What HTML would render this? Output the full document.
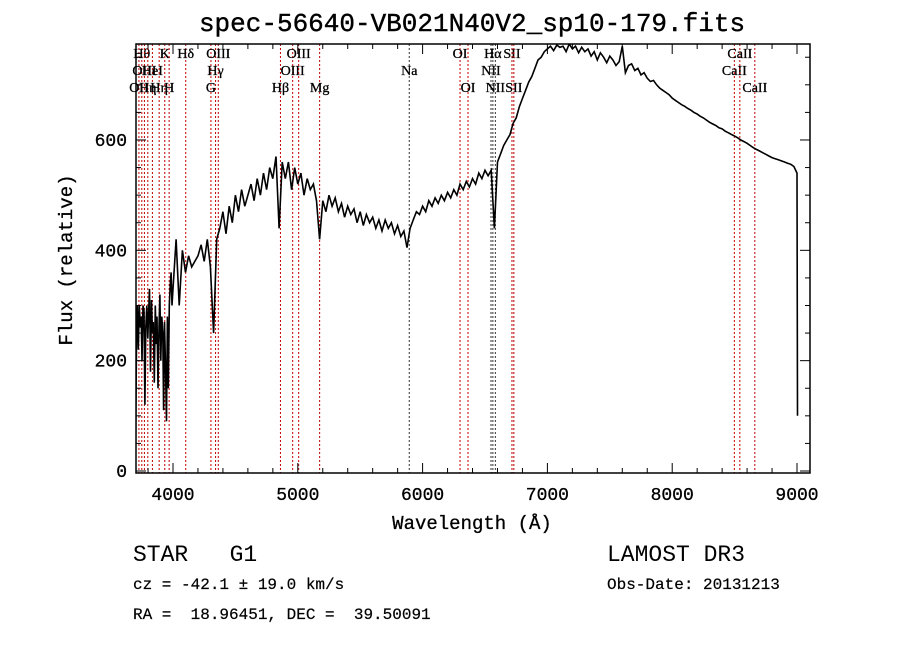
<!DOCTYPE html>
<html><head><meta charset="utf-8"><style>
body{margin:0;background:#fff;}
svg text{font-family:"Liberation Mono",monospace;fill:#000;white-space:pre;}
</style></head><body>
<svg id="chart" width="900" height="649" viewBox="0 0 900 649" xmlns="http://www.w3.org/2000/svg" xml:space="preserve">
<rect width="900" height="649" fill="#fff"/>
<text x="472" y="31" font-size="26" text-anchor="middle" stroke="#000" stroke-width="0.4">spec-56640-VB021N40V2_sp10-179.fits</text>
<g id="lines"></g>
<g id="spec"></g>
<g id="axes"></g>
<text x="472" y="529" font-size="19" text-anchor="middle" stroke="#000" stroke-width="0.3">Wavelength (Å)</text>
<text transform="translate(72,260) rotate(-90)" font-size="19" text-anchor="middle" stroke="#000" stroke-width="0.3">Flux (relative)</text>
<text x="133" y="561" font-size="23">STAR   G1</text>
<text x="607" y="561" font-size="23">LAMOST DR3</text>
<text x="133" y="589" font-size="16" stroke="#000" stroke-width="0.2">cz = -42.1 ± 19.0 km/s</text>
<text x="607" y="589" font-size="16" stroke="#000" stroke-width="0.2">Obs-Date: 20131213</text>
<text x="133" y="619" font-size="16" stroke="#000" stroke-width="0.2">RA =  18.96451, DEC =  39.50091</text>
</svg>
<script>
const wavelengths=[
3700,3703,3708,3715,3722,3730,3738,3745,3752,3760,
3768,3775,3782,3790,3798,3805,3812,3820,3828,3835,
3842,3850,3858,3865,3872,3880,3888,3895,3902,3910,
3918,3925,3932,3940,3948,3955,3962,3970,3978,3985,
3992,
4000,4025,4050,4075,4100,4125,4150,4175,
4200,4225,4250,4275,4300,4325,4350,4375,
4400,4425,4450,4475,4500,4525,4550,4575,
4600,4625,4650,4675,4700,4725,4750,4775,
4800,4825,4850,4875,4900,4925,4950,4975,
5000,5025,5050,5075,5100,5125,5150,5175,
5200,5225,5250,5275,5300,5325,5350,5375,
5400,5425,5450,5475,5500,5525,5550,5575,
5600,5625,5650,5675,5700,5725,5750,5775,
5800,5825,5850,5875,5900,5925,5950,5975,
6000,6025,6050,6075,6100,6125,6150,6175,
6200,6225,6250,6275,6300,6325,6350,6375,
6400,6425,6450,6475,6500,6525,6550,6575,
6600,6625,6650,6675,6700,6725,6750,6775,
6800,6825,6850,6875,6900,6925,6950,6975,
7000,7025,7050,7075,7100,7125,7150,7175,
7200,7225,7250,7275,7300,7325,7350,7375,
7400,7425,7450,7475,7500,7525,7550,7575,
7600,7625,7650,7675,7700,7725,7750,7775,
7800,7825,7850,7875,7900,7925,7950,7975,
8000,8025,8050,8075,8100,8125,8150,8175,
8200,8225,8250,8275,8300,8325,8350,8375,
8400,8425,8450,8475,8500,8525,8550,8575,
8600,8625,8650,8675,8700,8725,8750,8775,
8800,8825,8850,8875,8900,8925,8950,8975,
9000,9004];
const fluxes=[
0,110,250,300,220,300,260,280,200,300,
290,120,260,300,240,290,330,180,310,250,
270,160,300,230,280,150,260,320,200,280,
250,110,270,190,90,280,150,300,340,360,
300,
330,420,300,400,360,390,370,380,
390,410,380,420,370,250,420,440,
470,430,480,450,500,470,510,480,
500,520,490,530,500,540,510,550,
530,570,440,560,530,560,510,550,
520,540,500,530,510,520,490,420,
490,470,500,480,495,470,485,460,
480,465,475,450,470,445,465,450,
460,440,455,435,455,440,450,430,
445,425,435,405,440,455,470,465,
480,470,490,480,495,485,500,490,
505,495,510,500,520,510,525,515,
530,520,540,530,545,535,545,440,
560,575,590,600,610,630,640,660,
675,690,705,715,730,745,750,760,
765,770,762,772,768,770,760,774,
765,770,758,768,760,765,752,760,
745,758,750,740,752,745,735,742,
770,722,735,738,726,730,718,722,
712,706,708,700,694,690,686,682,
676,672,668,664,661,657,654,650,
647,643,640,636,632,629,626,622,
620,616,613,610,607,604,600,597,
594,590,586,583,580,577,574,571,
568,566,564,562,560,558,556,552,
540,100];
const lineLambdas=[3727,3750,3771,3798,3835,3889,3934,3969,4102,4304,4341,4363,4861,4959,5007,5175,5893,6300,6364,6548,6563,6583,6716,6731,8498,8542,8662];
const lineBlack=[0,0,0,0,0,0,0,0,0,0,0,0,0,0,0,0,1,0,0,1,1,1,0,0,0,0,0];
const lineLabels=[["OII",3],["Hθ",1],["OIII",2],["Hη",3],["HeI",2],["Hη",3],["K",1],["H",3],["Hδ",1],["G",3],["Hγ",2],["OIII",1],["Hβ",3],["OIII",2],["OIII",1],["Mg",3],["Na",2],["OI",1],["OI",3],["NII",2],["Hα",1],["NII",3],["SII",1],["SII",3],["CaII",2],["CaII",1],["CaII",3]];
const xTicks=[4000,5000,6000,7000,8000,9000];
const yTicks=[0,200,400,600];
const L=136,R=810,T=44,B=473;
const x=l=>173+(l-4000)*0.1248;
const y=f=>471-f*0.5517;
const NS="http://www.w3.org/2000/svg";
function mk(tag,attrs,parent){const e=document.createElementNS(NS,tag);for(const k in attrs)e.setAttribute(k,attrs[k]);parent.appendChild(e);return e;}
const gl=document.getElementById('lines'),gs=document.getElementById('spec'),ga=document.getElementById('axes');
lineLambdas.forEach((l,i)=>{
  const ln=mk('line',{x1:x(l),x2:x(l),y1:T,y2:B,stroke:lineBlack[i]?'#333':'#c00000','stroke-width':1,'stroke-dasharray':'2,2'},gl);
  
  
  const lab=lineLabels[i];
  const t=mk('text',{x:x(l),y:58+(lab[1]-1)*17,'font-size':14,'text-anchor':'middle',stroke:'#000','stroke-width':0.3,style:"font-family:'Liberation Serif',serif"},gl);
  t.textContent=lab[0];
  
  
});
const cp=mk('clipPath',{id:'cp'},gs);
mk('rect',{x:L,y:T,width:R-L,height:B-T},cp);
const n=Math.min(wavelengths.length,fluxes.length);
let d='';
for(let i=0;i<n;i++)d+=(i?'L':'M')+x(wavelengths[i]).toFixed(1)+','+y(fluxes[i]).toFixed(1);
const p=mk('path',{d:d,fill:'none',stroke:'#000','stroke-width':1.6,'clip-path':'url(#cp)'},gs);


const fr=mk('rect',{x:L,y:T,width:R-L,height:B-T,fill:'none',stroke:'#000','stroke-width':1.5},ga);


for(let l=3800;l<=9100;l+=200){const mj=l%1000===0;const h=mj?10:5;
  mk('line',{x1:x(l),x2:x(l),y1:B,y2:B-h,stroke:'#000'},ga);mk('line',{x1:x(l),x2:x(l),y1:T,y2:T+h,stroke:'#000'},ga);}
for(let f=0;f<=750;f+=50){const mj=f%200===0;const h=mj?10:5;
  mk('line',{x1:L,x2:L+h,y1:y(f),y2:y(f),stroke:'#000'},ga);mk('line',{x1:R,x2:R-h,y1:y(f),y2:y(f),stroke:'#000'},ga);}
xTicks.forEach(v=>{const t=mk('text',{x:x(v),y:500,'font-size':18,'text-anchor':'middle',stroke:'#000','stroke-width':0.3},ga);t.textContent=v;
  
  });
yTicks.forEach(v=>{const t=mk('text',{x:127,y:y(v)+6,'font-size':18,'text-anchor':'end',stroke:'#000','stroke-width':0.3},ga);t.textContent=v;
  
  });
</script>
</body></html>
